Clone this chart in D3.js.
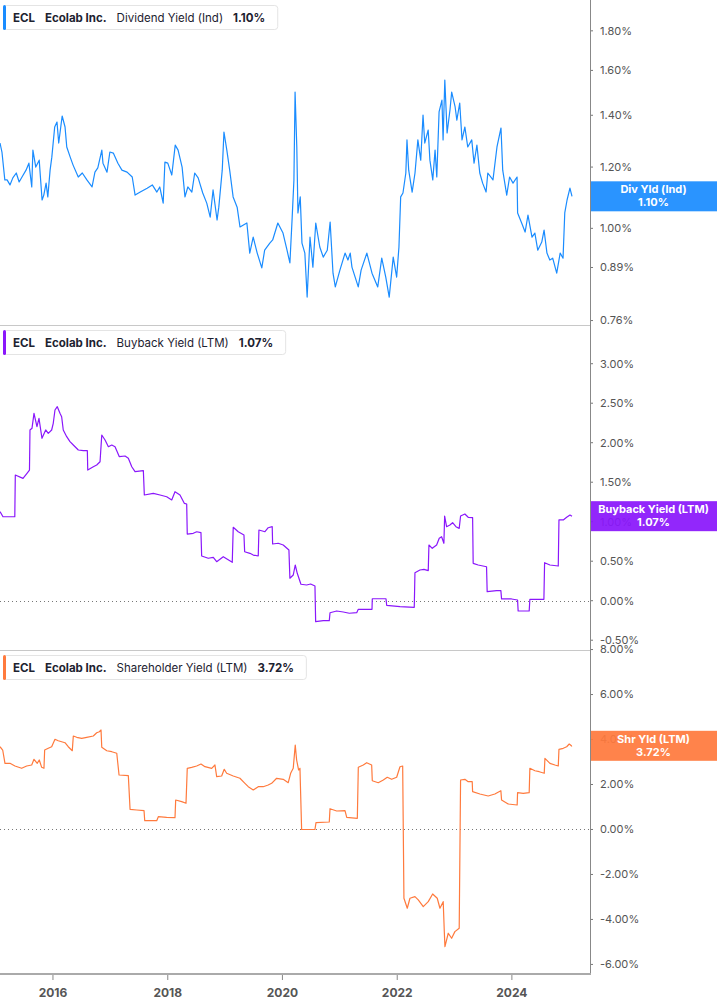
<!DOCTYPE html>
<html>
<head>
<meta charset="utf-8">
<script src="https://cdn.jsdelivr.net/npm/d3@7"></script>
<style>
  body { margin: 0; background: #fff; }
  svg { display: block; font-family: Inter, "Noto Sans", sans-serif; }
</style>
</head>
<body>
<div id="chart"></div>
<script>
// [decimal year, yield %]
const divYield = [
  [2015.076,1.289],[2015.11,1.255],[2015.16,1.155],[2015.20,1.155],[2015.25,1.138],[2015.30,1.162],
  [2015.36,1.179],[2015.41,1.148],[2015.46,1.165],[2015.53,1.189],[2015.58,1.214],[2015.63,1.131],
  [2015.65,1.262],[2015.70,1.200],[2015.76,1.225],[2015.81,1.088],[2015.84,1.104],[2015.88,1.144],
  [2015.91,1.098],[2015.95,1.189],[2015.98,1.236],[2016.03,1.352],[2016.07,1.372],[2016.10,1.289],
  [2016.16,1.397],[2016.21,1.352],[2016.24,1.274],[2016.30,1.236],[2016.35,1.207],[2016.44,1.165],
  [2016.51,1.179],[2016.59,1.155],[2016.68,1.131],[2016.73,1.182],[2016.78,1.197],[2016.85,1.262],
  [2016.87,1.214],[2016.94,1.182],[2016.99,1.255],[2017.05,1.251],[2017.13,1.214],[2017.20,1.189],
  [2017.29,1.182],[2017.38,1.165],[2017.43,1.104],[2017.52,1.114],[2017.64,1.127],[2017.73,1.138],
  [2017.81,1.114],[2017.86,1.131],[2017.92,1.078],[2017.95,1.218],[2018.00,1.214],[2018.07,1.172],
  [2018.13,1.281],[2018.18,1.262],[2018.25,1.200],[2018.30,1.098],[2018.35,1.131],[2018.42,1.114],
  [2018.47,1.179],[2018.53,1.162],[2018.61,1.111],[2018.68,1.078],[2018.74,1.034],[2018.79,1.121],
  [2018.86,1.025],[2018.89,1.065],[2018.95,1.189],[2018.98,1.332],[2019.03,1.262],[2019.08,1.189],
  [2019.14,1.098],[2019.21,1.065],[2019.26,1.004],[2019.38,1.016],[2019.43,0.929],[2019.49,0.974],
  [2019.56,0.929],[2019.64,0.889],[2019.69,0.937],[2019.78,0.957],[2019.83,0.966],[2019.92,1.016],
  [2020.01,0.986],[2020.08,0.937],[2020.13,0.902],[2020.17,1.034],[2020.20,1.155],[2020.22,1.500],
  [2020.25,1.274],[2020.27,1.047],[2020.31,1.098],[2020.34,0.957],[2020.39,0.929],[2020.43,0.815],
  [2020.48,0.974],[2020.53,0.891],[2020.58,1.016],[2020.65,0.946],[2020.71,0.918],[2020.78,0.937],
  [2020.83,1.019],[2020.88,0.875],[2020.92,0.840],[2021.00,0.883],[2021.09,0.929],[2021.14,0.910],
  [2021.18,0.929],[2021.21,0.891],[2021.32,0.840],[2021.37,0.883],[2021.47,0.929],[2021.56,0.875],
  [2021.66,0.840],[2021.73,0.915],[2021.80,0.865],[2021.86,0.815],[2021.93,0.918],[2021.99,0.865],
  [2022.03,0.946],[2022.06,1.098],[2022.10,1.111],[2022.15,1.179],[2022.17,1.301],[2022.20,1.189],
  [2022.26,1.114],[2022.31,1.179],[2022.36,1.301],[2022.41,1.225],[2022.45,1.401],[2022.48,1.289],
  [2022.54,1.340],[2022.57,1.225],[2022.62,1.155],[2022.66,1.262],[2022.69,1.165],[2022.73,1.414],
  [2022.78,1.465],[2022.80,1.301],[2022.83,1.555],[2022.87,1.328],[2022.92,1.422],[2022.95,1.500],
  [2023.01,1.435],[2023.04,1.380],[2023.09,1.452],[2023.13,1.301],[2023.18,1.352],[2023.23,1.274],
  [2023.30,1.301],[2023.34,1.214],[2023.39,1.281],[2023.44,1.179],[2023.49,1.144],[2023.55,1.114],
  [2023.58,1.179],[2023.67,1.155],[2023.74,1.274],[2023.81,1.348],[2023.84,1.189],[2023.91,1.104],
  [2023.96,1.165],[2024.02,1.144],[2024.09,1.165],[2024.10,1.047],[2024.17,1.016],[2024.23,0.989],
  [2024.28,1.040],[2024.35,0.974],[2024.40,0.986],[2024.45,0.937],[2024.52,0.960],[2024.56,0.995],
  [2024.61,0.929],[2024.66,0.910],[2024.71,0.915],[2024.78,0.875],[2024.84,0.929],[2024.89,0.915],
  [2024.92,1.047],[2024.96,1.088],[2025.01,1.127],[2025.046,1.10]
];

const buybackYield = [
  [2015.076,1.127],[2015.128,1.063],[2015.334,1.063],[2015.343,1.591],[2015.477,1.549],[2015.547,1.613],
  [2015.590,1.654],[2015.599,2.161],[2015.634,2.182],[2015.669,2.372],[2015.721,2.203],[2015.756,2.309],
  [2015.808,2.056],[2015.873,2.161],[2015.918,2.119],[2015.977,2.161],[2016.005,2.246],[2016.035,2.414],
  [2016.075,2.456],[2016.122,2.372],[2016.151,2.329],[2016.179,2.161],[2016.239,2.076],[2016.296,2.013],
  [2016.354,1.971],[2016.441,1.908],[2016.528,1.899],[2016.598,1.899],[2016.605,1.654],[2016.702,1.696],
  [2016.761,1.718],[2016.819,1.759],[2016.849,2.097],[2016.906,2.034],[2016.964,1.949],[2017.023,1.971],
  [2017.080,1.949],[2017.155,1.823],[2017.255,1.832],[2017.312,1.803],[2017.372,1.696],[2017.429,1.633],
  [2017.574,1.646],[2017.591,1.338],[2017.748,1.359],[2017.865,1.338],[2017.981,1.316],[2018.069,1.275],
  [2018.126,1.380],[2018.213,1.338],[2018.288,1.233],[2018.330,1.224],[2018.340,0.844],[2018.445,0.853],
  [2018.504,0.873],[2018.579,0.861],[2018.591,0.566],[2018.706,0.537],[2018.794,0.549],[2018.853,0.494],
  [2018.968,0.557],[2019.125,0.486],[2019.142,0.929],[2019.229,0.873],[2019.329,0.832],[2019.341,0.620],
  [2019.433,0.600],[2019.491,0.578],[2019.578,0.566],[2019.590,0.895],[2019.695,0.873],[2019.752,0.924],
  [2019.822,0.937],[2019.829,0.718],[2019.927,0.727],[2020.014,0.705],[2020.113,0.642],[2020.130,0.284],
  [2020.188,0.325],[2020.223,0.452],[2020.258,0.347],[2020.322,0.208],[2020.421,0.199],[2020.491,0.211],
  [2020.566,0.186],[2020.578,-0.266],[2020.711,-0.253],[2020.815,-0.253],[2020.828,-0.152],[2020.944,-0.130],
  [2021.059,-0.143],[2021.164,-0.159],[2021.293,-0.152],[2021.321,-0.109],[2021.560,-0.109],[2021.565,0.025],
  [2021.804,0.025],[2021.816,-0.058],[2022.048,-0.076],[2022.297,-0.084],[2022.309,0.354],[2022.396,0.389],
  [2022.466,0.397],[2022.541,0.380],[2022.553,0.705],[2022.611,0.663],[2022.687,0.705],[2022.733,0.790],
  [2022.774,0.810],[2022.814,0.727],[2022.827,1.072],[2022.861,0.937],[2022.919,0.958],[2022.966,0.987],
  [2023.024,0.937],[2023.081,0.916],[2023.105,1.072],[2023.180,1.097],[2023.238,1.056],[2023.315,1.051],
  [2023.325,0.473],[2023.412,0.452],[2023.558,0.430],[2023.569,0.114],[2023.733,0.127],[2023.808,0.127],
  [2023.820,0.022],[2023.994,0.022],[2024.099,0.009],[2024.109,-0.130],[2024.301,-0.130],[2024.313,0.018],
  [2024.557,0.018],[2024.569,0.481],[2024.662,0.452],[2024.807,0.439],[2024.819,1.022],[2024.894,1.022],
  [2024.953,1.056],[2025.011,1.085],[2025.046,1.07]
];

const shareholderYield = [
  [2015.076,3.680],[2015.123,3.533],[2015.163,2.942],[2015.250,2.942],[2015.337,2.822],[2015.454,2.720],
  [2015.541,2.822],[2015.629,2.867],[2015.669,3.120],[2015.726,2.942],[2015.761,3.089],[2015.803,2.764],
  [2015.843,2.720],[2015.855,3.533],[2015.918,3.609],[2015.977,3.680],[2016.035,4.009],[2016.092,3.947],
  [2016.151,3.902],[2016.209,3.858],[2016.266,3.680],[2016.336,3.502],[2016.354,4.156],[2016.413,4.098],
  [2016.500,4.053],[2016.587,4.098],[2016.702,4.156],[2016.761,4.302],[2016.807,4.347],[2016.836,4.422],
  [2016.849,3.653],[2016.936,3.502],[2017.023,3.458],[2017.110,3.387],[2017.150,2.422],[2017.312,2.391],
  [2017.342,0.898],[2017.459,0.867],[2017.586,0.836],[2017.598,0.391],[2017.807,0.391],[2017.835,0.569],
  [2017.981,0.542],[2018.126,0.524],[2018.138,1.311],[2018.243,1.236],[2018.318,1.164],[2018.340,2.720],
  [2018.417,2.764],[2018.504,2.822],[2018.579,2.911],[2018.649,2.791],[2018.766,2.720],[2018.823,2.867],
  [2018.853,2.347],[2018.940,2.378],[2018.985,2.676],[2019.027,2.498],[2019.142,2.378],[2019.259,2.276],
  [2019.346,2.053],[2019.404,1.902],[2019.491,1.756],[2019.578,1.902],[2019.665,1.902],[2019.752,1.978],
  [2019.812,2.053],[2019.899,2.276],[2020.014,2.231],[2020.101,2.080],[2020.143,2.498],[2020.188,2.720],
  [2020.223,3.756],[2020.247,3.089],[2020.282,2.644],[2020.305,2.720],[2020.334,0.0],[2020.566,0.0],
  [2020.584,0.302],[2020.815,0.333],[2020.828,0.924],[2020.944,0.822],[2021.089,0.836],[2021.119,0.542],
  [2021.304,0.498],[2021.321,2.764],[2021.408,2.867],[2021.467,2.969],[2021.554,2.867],[2021.565,2.169],
  [2021.669,2.080],[2021.757,2.200],[2021.826,2.320],[2021.903,2.231],[2021.990,2.320],[2022.048,2.791],
  [2022.095,2.822],[2022.117,-3.058],[2022.175,-3.502],[2022.222,-3.058],[2022.309,-2.987],[2022.367,-3.133],
  [2022.454,-3.431],[2022.541,-3.209],[2022.618,-2.867],[2022.698,-3.058],[2022.745,-3.502],[2022.802,-3.209],
  [2022.820,-4.467],[2022.832,-5.209],[2022.890,-4.613],[2022.949,-4.836],[2023.006,-4.542],[2023.081,-4.391],
  [2023.105,2.200],[2023.180,2.231],[2023.238,2.124],[2023.308,2.124],[2023.315,1.680],[2023.442,1.578],
  [2023.587,1.489],[2023.703,1.578],[2023.808,1.724],[2023.820,1.311],[2023.935,1.133],[2024.092,1.089],
  [2024.099,1.636],[2024.197,1.609],[2024.301,1.636],[2024.313,2.720],[2024.401,2.613],[2024.476,2.569],
  [2024.563,2.498],[2024.575,3.164],[2024.662,2.942],[2024.749,2.867],[2024.807,2.822],[2024.819,3.564],
  [2024.894,3.609],[2024.953,3.680],[2024.998,3.800],[2025.040,3.711],[2025.046,3.72]
];

const yearTicks = [2016, 2018, 2020, 2022, 2024];
const divTicks = [0.76, 0.89, 1.00, 1.20, 1.40, 1.60, 1.80];
const buybackTicks = [-0.5, 0, 0.5, 1, 1.5, 2, 2.5, 3];
const shareholderTicks = [-6, -4, -2, 0, 2, 4, 6, 8];

const width = 717, height = 1005;
const plotRight = 590;

function toDate(t) {
  const y = Math.floor(t);
  const a = new Date(y, 0, 1), b = new Date(y + 1, 0, 1);
  return new Date(+a + (t - y) * (b - a));
}

const svg = d3.select("#chart").append("svg")
  .attr("width", width)
  .attr("height", height);

const x = d3.scaleTime()
  .domain([toDate(2015.076), toDate(2025.36)])
  .range([0, plotRight]);

const panels = [
  { data: divYield, top: 0, bottom: 325, color: "#1a8cff",
    y: d3.scaleLog().domain([0.750, 1.973]).range([325, 0]),
    ticks: divTicks, name: "Dividend Yield (Ind)", tag: "Div Yld (Ind)", zero: false },
  { data: buybackYield, top: 325, bottom: 650, color: "#8a17fb",
    y: d3.scaleLinear().domain([-0.624, 3.49]).range([650, 325]),
    ticks: buybackTicks, name: "Buyback Yield (LTM)", tag: "Buyback Yield (LTM)", zero: true },
  { data: shareholderYield, top: 650, bottom: 975, color: "#ff7a3d",
    y: d3.scaleLinear().domain([-6.47, 7.98]).range([975, 650]),
    ticks: shareholderTicks, name: "Shareholder Yield (LTM)", tag: "Shr Yld (LTM)", zero: true }
];

panels.forEach((p, i) => {
  const g = svg.append("g");
  const clipId = "clip" + i;
  svg.append("clipPath").attr("id", clipId)
    .append("rect")
    .attr("x", 0).attr("y", p.top)
    .attr("width", plotRight).attr("height", p.bottom - p.top);

  // separator line at bottom of panel
  if (i < 2) {
    g.append("line")
      .attr("x1", 0).attr("x2", plotRight)
      .attr("y1", p.bottom + 0.5).attr("y2", p.bottom + 0.5)
      .attr("stroke", "#c8c8c8");
  }

  if (p.zero) {
    g.append("line")
      .attr("x1", 0).attr("x2", plotRight)
      .attr("y1", Math.round(p.y(0)) + 0.5).attr("y2", Math.round(p.y(0)) + 0.5)
      .attr("stroke", "#777")
      .attr("stroke-dasharray", "1,3");
  }

  const line = d3.line()
    .x(d => x(toDate(d[0])))
    .y(d => p.y(d[1]));

  g.append("path")
    .datum(p.data)
    .attr("clip-path", `url(#${clipId})`)
    .attr("fill", "none")
    .attr("stroke", p.color)
    .attr("stroke-width", 1.2)
    .attr("stroke-linejoin", "round")
    .attr("d", line);

  // right axis ticks
  const axis = g.append("g");
  axis.selectAll("line")
    .data(p.ticks)
    .enter()
    .append("line")
    .attr("x1", plotRight).attr("x2", plotRight + 3)
    .attr("y1", d => p.y(d)).attr("y2", d => p.y(d))
    .attr("stroke", "#777");
  axis.selectAll("text")
    .data(p.ticks)
    .enter()
    .append("text")
    .attr("x", plotRight + 10)
    .attr("y", d => p.y(d))
    .attr("dy", "0.35em")
    .attr("font-size", 11)
    .attr("fill", "#555")
    .text(d => d.toFixed(2) + "%");

  // last value tag
  const last = p.data[p.data.length - 1][1];
  const ty = p.y(last);
  const tag = g.append("g");
  tag.append("rect")
    .attr("x", plotRight).attr("y", ty - 15)
    .attr("width", width - plotRight).attr("height", 30)
    .attr("fill", p.color)
    .attr("opacity", 0.93);
  tag.append("text")
    .attr("x", (plotRight + width) / 2).attr("y", ty - 3)
    .attr("text-anchor", "middle")
    .attr("font-size", 11).attr("font-weight", 700)
    .attr("fill", "#fff")
    .text(p.tag);
  tag.append("text")
    .attr("x", (plotRight + width) / 2).attr("y", ty + 10)
    .attr("text-anchor", "middle")
    .attr("font-size", 11).attr("font-weight", 700)
    .attr("fill", "#fff")
    .text(last.toFixed(2) + "%");

  // legend box
  const lg = g.append("g").attr("transform", `translate(3,${p.top + 5})`);
  const box = lg.append("rect")
    .attr("x", 0.5).attr("y", 0.5)
    .attr("height", 24).attr("rx", 3)
    .attr("fill", "#fff").attr("stroke", "#e4e4e4");
  lg.append("rect")
    .attr("x", 0).attr("y", 0)
    .attr("width", 3).attr("height", 25).attr("rx", 1.5)
    .attr("fill", p.color);
  const parts = [
    { t: "ECL", w: 700 },
    { t: "Ecolab Inc.", w: 700 },
    { t: p.name, w: 400 },
    { t: last.toFixed(2) + "%", w: 700 }
  ];
  let cx = 10;
  parts.forEach(part => {
    const t = lg.append("text")
      .attr("x", cx).attr("y", 17)
      .attr("font-size", 11.5)
      .attr("font-weight", part.w)
      .attr("fill", "#1d2230")
      .text(part.t);
    cx += t.node().getComputedTextLength() + 10;
  });
  box.attr("width", cx + 2);
});

// right axis line
svg.append("line")
  .attr("x1", plotRight + 0.5).attr("x2", plotRight + 0.5)
  .attr("y1", 0).attr("y2", 975)
  .attr("stroke", "#888");

// bottom axis
svg.append("line")
  .attr("x1", 0).attr("x2", plotRight + 1)
  .attr("y1", 974).attr("y2", 974)
  .attr("stroke", "#aaa").attr("stroke-width", 2);

const xg = svg.append("g");
xg.selectAll("line")
  .data(yearTicks)
  .enter()
  .append("line")
  .attr("x1", d => x(new Date(d, 0, 1))).attr("x2", d => x(new Date(d, 0, 1)))
  .attr("y1", 975).attr("y2", 980)
  .attr("stroke", "#888");
xg.selectAll("text")
  .data(yearTicks)
  .enter()
  .append("text")
  .attr("x", d => x(new Date(d, 0, 1)))
  .attr("y", 997)
  .attr("text-anchor", "middle")
  .attr("font-size", 12).attr("font-weight", 700)
  .attr("fill", "#555")
  .text(d => d);
</script>
</body>
</html>
